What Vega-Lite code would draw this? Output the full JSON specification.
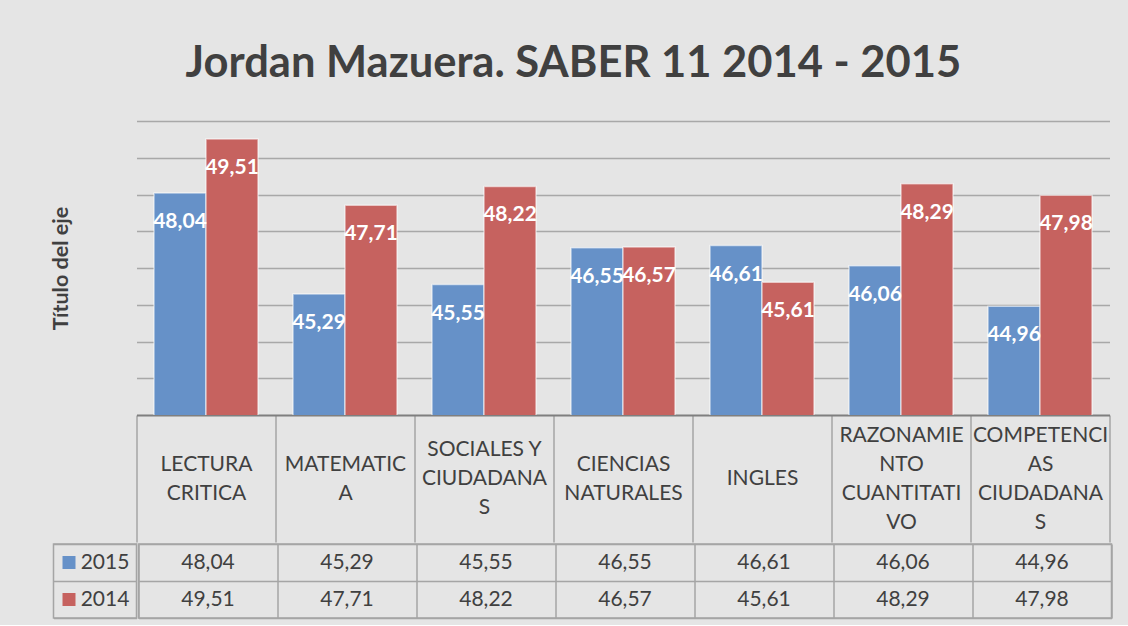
{
  "$schema": "https://vega.github.io/schema/vega-lite/v6.json",
  "background": "#e5e5e5",
  "padding": {"left": 50.5, "right": 18, "top": 41, "bottom": 6},
  "title": {"text": "Jordan Mazuera. SABER 11 2014 - 2015", "font": "Lato", "fontSize": 43.5, "fontWeight": "bold", "color": "#404040", "anchor": "middle", "offset": 35, "dx": -8},
  "config": {
    "locale": {"number": {"decimal": ",", "thousands": ".", "grouping": [3], "currency": ["", " €"]}},
    "view": {"stroke": null},
    "concat": {"spacing": 0}
  },
  "data": {"values": [
    {"cat": "LECTURA CRITICA", "series": "2015", "value": 48.04},
    {"cat": "LECTURA CRITICA", "series": "2014", "value": 49.51},
    {"cat": "MATEMATICA", "series": "2015", "value": 45.29},
    {"cat": "MATEMATICA", "series": "2014", "value": 47.71},
    {"cat": "SOCIALES Y CIUDADANAS", "series": "2015", "value": 45.55},
    {"cat": "SOCIALES Y CIUDADANAS", "series": "2014", "value": 48.22},
    {"cat": "CIENCIAS NATURALES", "series": "2015", "value": 46.55},
    {"cat": "CIENCIAS NATURALES", "series": "2014", "value": 46.57},
    {"cat": "INGLES", "series": "2015", "value": 46.61},
    {"cat": "INGLES", "series": "2014", "value": 45.61},
    {"cat": "RAZONAMIENTO CUANTITATIVO", "series": "2015", "value": 46.06},
    {"cat": "RAZONAMIENTO CUANTITATIVO", "series": "2014", "value": 48.29},
    {"cat": "COMPETENCIAS CIUDADANAS", "series": "2015", "value": 44.96},
    {"cat": "COMPETENCIAS CIUDADANAS", "series": "2014", "value": 47.98}
  ]},
  "spacing": 0,
  "vconcat": [
    {
      "spacing": 0,
      "bounds": "flush",
      "hconcat": [
        {
          "width": 83,
          "height": 294,
          "transform": [{"filter": "false"}],
          "mark": "point"
        },
        {
          "width": 973,
          "height": 294,
          "encoding": {
            "x": {
              "field": "cat", "type": "nominal", "sort": null,
              "scale": {"paddingInner": 0, "paddingOuter": 0},
              "axis": {
                "title": null, "orient": "bottom", "grid": false,
                "domainColor": "#7f7f7f", "domainWidth": 2,
                "tickBand": "extent", "tickSize": 127, "tickColor": "#a5a5a5", "tickWidth": 1.5,
                "labelPadding": {
                  "condition": [
                    {"test": "datum.value == 'INGLES'", "value": -63.5},
                    {"test": "datum.value == 'SOCIALES Y CIUDADANAS'", "value": -92.5},
                    {"test": "datum.value == 'RAZONAMIENTO CUANTITATIVO' || datum.value == 'COMPETENCIAS CIUDADANAS'", "value": -107}
                  ],
                  "value": -78
                },
                "labelBaseline": "middle", "labelAngle": 0, "labelOverlap": false,
                "labelFont": "Lato", "labelFontSize": 21, "labelColor": "#404040", "labelLineHeight": 29, "labelLimit": 0,
                "labelExpr": "{'LECTURA CRITICA': ['LECTURA', 'CRITICA'], 'MATEMATICA': ['MATEMATIC', 'A'], 'SOCIALES Y CIUDADANAS': ['SOCIALES Y', 'CIUDADANA', 'S'], 'CIENCIAS NATURALES': ['CIENCIAS', 'NATURALES'], 'INGLES': 'INGLES', 'RAZONAMIENTO CUANTITATIVO': ['RAZONAMIE', 'NTO', 'CUANTITATI', 'VO'], 'COMPETENCIAS CIUDADANAS': ['COMPETENCI', 'AS', 'CIUDADANA', 'S']}[datum.value]"
              }
            },
            "xOffset": {"field": "series", "type": "nominal", "scale": {"domain": ["2015", "2014"], "paddingInner": 0, "paddingOuter": 0.3365}},
            "y": {
              "field": "value", "type": "quantitative",
              "scale": {"domain": [42, 50], "nice": false, "zero": false},
              "axis": {
                "title": "Título del eje", "titleFont": "Lato", "titleFontSize": 21.5, "titleFontWeight": "bold", "titleColor": "#404040", "titlePadding": 64,
                "labels": false, "ticks": false, "domain": false,
                "grid": true, "gridColor": "#a8a8a8", "gridWidth": 1.5,
                "values": [43, 44, 45, 46, 47, 48, 49, 50]
              }
            }
          },
          "layer": [
            {
              "mark": {"type": "bar", "clip": true, "stroke": "#ffffff", "strokeOpacity": 0.55, "strokeWidth": 1.5},
              "encoding": {
                "color": {"field": "series", "type": "nominal", "scale": {"domain": ["2015", "2014"], "range": ["#6691C8", "#C6625F"]}, "legend": null}
              }
            },
            {
              "mark": {"type": "text", "baseline": "alphabetic", "dy": 35, "font": "Lato", "fontSize": 21, "fontWeight": "bold", "color": "#ffffff"},
              "encoding": {"text": {"field": "value", "type": "quantitative", "format": ".2f"}}
            }
          ]
        }
      ]
    },
    {
      "spacing": 0,
      "hconcat": [
        {
          "width": 83,
          "height": 74,
          "view": {"stroke": "#a5a5a5", "strokeWidth": 1.5},
          "transform": [{"filter": "datum.cat == 'INGLES'"}],
          "encoding": {
            "y": {
              "field": "series", "type": "nominal",
              "scale": {"domain": ["2015", "2014"], "paddingInner": 0, "paddingOuter": 0},
              "axis": {"title": null, "labels": false, "ticks": false, "domain": false, "grid": true, "tickBand": "extent", "gridColor": "#a5a5a5", "gridWidth": 1.5}
            }
          },
          "layer": [
            {
              "mark": {"type": "point", "shape": "square", "filled": true, "size": 169, "opacity": 1, "xOffset": -26},
              "encoding": {"color": {"field": "series", "type": "nominal", "scale": {"domain": ["2015", "2014"], "range": ["#6691C8", "#C6625F"]}, "legend": null}}
            },
            {
              "mark": {"type": "text", "dx": 10, "font": "Lato", "fontSize": 21, "color": "#404040"},
              "encoding": {"text": {"field": "series", "type": "nominal"}}
            }
          ]
        },
        {
          "width": 973,
          "height": 74,
          "view": {"stroke": "#a5a5a5", "strokeWidth": 1.5},
          "mark": {"type": "text", "font": "Lato", "fontSize": 21, "color": "#404040"},
          "encoding": {
            "x": {
              "field": "cat", "type": "nominal", "sort": null,
              "scale": {"paddingInner": 0, "paddingOuter": 0},
              "axis": {"title": null, "labels": false, "ticks": false, "domain": false, "grid": true, "tickBand": "extent", "gridColor": "#a5a5a5", "gridWidth": 1.5}
            },
            "y": {
              "field": "series", "type": "nominal",
              "scale": {"domain": ["2015", "2014"], "paddingInner": 0, "paddingOuter": 0},
              "axis": {"title": null, "labels": false, "ticks": false, "domain": false, "grid": true, "tickBand": "extent", "gridColor": "#a5a5a5", "gridWidth": 1.5}
            },
            "text": {"field": "value", "type": "quantitative", "format": ".2f"}
          }
        }
      ]
    }
  ]
}
